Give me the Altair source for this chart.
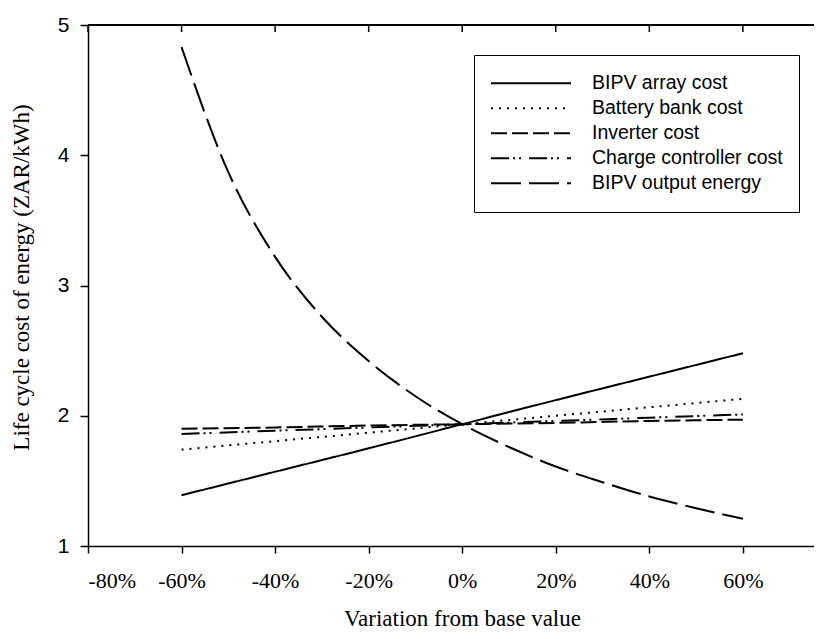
import altair as alt
import pandas as pd

# ---- data ----
series_names = ["BIPV array cost", "Battery bank cost", "Inverter cost",
                "Charge controller cost", "BIPV output energy"]

x_lin = [-60, -40, -20, 0, 20, 40, 60]
bipv_array = [1.39, 1.57, 1.75, 1.935, 2.12, 2.30, 2.48]
battery_bank = [1.74, 1.805, 1.87, 1.935, 2.00, 2.065, 2.13]
inverter = [1.90, 1.91, 1.925, 1.935, 1.945, 1.96, 1.97]
charge_ctrl = [1.86, 1.885, 1.91, 1.935, 1.96, 1.985, 2.01]

x_energy = [-60, -50, -40, -30, -20, -10, 0, 10, 20, 30, 40, 50, 60]
bipv_energy = [4.83, 3.87, 3.22, 2.76, 2.42, 2.15, 1.935, 1.76, 1.61, 1.49, 1.38, 1.29, 1.21]

x_ticks = [-80, -60, -40, -20, 0, 20, 40, 60]
y_ticks = [1, 2, 3, 4, 5]

dash_styles = [[1, 0], [2, 6], [16, 5], [18, 4, 2, 4, 2, 8], [30, 8]]

rows = []
for name, vals in zip(series_names[:4], [bipv_array, battery_bank, inverter, charge_ctrl]):
    for xv, yv in zip(x_lin, vals):
        rows.append({"series": name, "x": xv, "y": yv})
for xv, yv in zip(x_energy, bipv_energy):
    rows.append({"series": series_names[4], "x": xv, "y": yv})
df = pd.DataFrame(rows)
ticks_df = pd.DataFrame({"x": x_ticks})

W, H = 726, 521
XDOM = [-80, 75.2]

xscale = alt.Scale(domain=XDOM, nice=False, zero=False)
yscale = alt.Scale(domain=[1, 5], nice=False, zero=False)

lines = alt.Chart(df).mark_line(color="black", strokeWidth=2, interpolate="monotone",
                                strokeCap="butt").encode(
    x=alt.X("x:Q", scale=xscale,
            axis=alt.Axis(values=x_ticks, labelExpr="datum.value + '%'",
                          title="Variation from base value",
                          labelFont="Liberation Serif", labelFontSize=22,
                          labelPadding=17, tickSize=7, grid=False,
                          titleFont="Liberation Serif", titleFontSize=23,
                          titleFontWeight="normal", titleX=374, titleY=79,
                          titleBaseline="alphabetic", titleAnchor="middle")),
    y=alt.Y("y:Q", scale=yscale,
            axis=alt.Axis(values=y_ticks, format="d", title="Life cycle cost of energy (ZAR/kWh)",
                          labelFont="Liberation Sans", labelFontSize=21, labelPadding=11,
                          tickSize=8, grid=False,
                          titleFont="Liberation Serif", titleFontSize=23,
                          titleFontWeight="normal", titleAngle=270, titleX=-60, titleY=252,
                          titleBaseline="alphabetic", titleAnchor="middle")),
    strokeDash=alt.StrokeDash("series:N",
                              scale=alt.Scale(domain=series_names, range=dash_styles),
                              legend=alt.Legend(title=None, orient="none", legendX=386, legendY=30,
                                                symbolType="stroke", symbolSize=6400,
                                                symbolStrokeWidth=2, symbolStrokeColor="black",
                                                labelFont="Liberation Sans", labelFontSize=19.5,
                                                labelOffset=20, labelLimit=400, rowPadding=0,
                                                clipHeight=24.3,
                                                padding=16, strokeColor="black",
                                                fillColor="white")),
    detail="series:N",
)

top_ticks = alt.Chart(ticks_df).mark_rule(color="black", strokeWidth=1.5).encode(
    x=alt.X("x:Q", scale=xscale),
    y=alt.value(0), y2=alt.value(7),
)

top_line = alt.Chart(ticks_df).mark_rule(color="black", strokeWidth=1.5).encode(
    x=alt.value(0), x2=alt.value(W), y=alt.value(0)
)

chart = alt.layer(lines, top_ticks, top_line).properties(
    width=W, height=H,
    autosize=alt.AutoSizeParams(type="none"),
    padding={"left": 80, "top": 17, "right": 0, "bottom": 85},
).configure_view(stroke=None).configure_axis(
    domainColor="black", tickColor="black", labelColor="black", titleColor="black",
    domainWidth=1.5, tickWidth=1.5,
)

chart.save("out.html", embed_options={"renderer": "svg", "actions": False})
